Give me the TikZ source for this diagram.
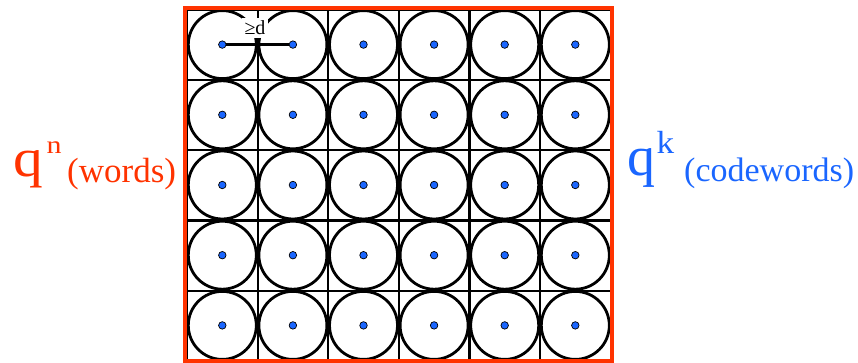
\documentclass[tikz,border=0pt]{standalone}
\usepackage{fontspec}
\setmainfont{Liberation Serif}
\usepackage{graphicx}
\usepackage{tikz}
\usetikzlibrary{positioning}
\definecolor{wordred}{HTML}{FF3300}
\definecolor{codeblue}{HTML}{1A66FF}
\tikzset{
  gridline/.style={line width=2.2pt,black},
  border/.style={draw=wordred,line width=4pt},
  ball/.style={circle,draw=black,fill=white,line width=2.8pt,
               minimum size=68pt,inner sep=0},
  centre/.style={circle,draw=black,fill=codeblue,line width=0.7pt,
                 minimum size=7.5pt,inner sep=0},
  spacelabel/.style={anchor=base west,inner sep=0},
}
\newcommand{\sizedtext}[3]{\scalebox{#2}[1]{\fontsize{#1}{#1}\selectfont #3}}

\begin{document}
\begin{tikzpicture}[x=1pt,y=-1pt]
  \useasboundingbox (0,0) rectangle (858,363);

  % grid of words
  \foreach \i in {0,...,6}
    \draw[gridline] ({187+70.6*\i},10) -- ({187+70.6*\i},361);
  \foreach \j in {0,...,5}
    \draw[gridline] (187,{10+70.2*\j}) -- (610.6,{10+70.2*\j});

  % codewords with their balls
  \foreach \i in {1,...,6}
    \foreach \j in {1,...,5}{
      \node[ball] (b\i\j) at ({187+70.6*\i-35.3},{9.5+70.2*\j-35.1}) {};
      \node[centre] (c\i\j) at (b\i\j) {};
    }

  % space of all words
  \draw[border] (184.5,8) rectangle (611.5,361);

  % minimum distance
  \draw[line width=3pt] (c11) -- (c21);
  \node[fill=white,inner sep=2.5pt,font=\fontsize{20}{20}\selectfont]
    (dist) at (255,28) {≥d};

  % labels
  \node[spacelabel,wordred] (qn) at (13,176.7) {\sizedtext{54}{1.1}{q}};
  \node[spacelabel,wordred] (qnexp) at (46.5,153.3) {\sizedtext{25}{1.2}{n}};
  \node[spacelabel,wordred] (words) at (67,183) {\sizedtext{35}{1}{(words)}};
  \node[spacelabel,codeblue] (qk) at (627,176) {\sizedtext{56}{1}{q}};
  \node[spacelabel,codeblue] (qkexp) at (656.5,153.3) {\sizedtext{32}{1.1}{k}};
  \node[spacelabel,codeblue] (codewords) at (684,182) {\sizedtext{34}{1}{(codewords)}};
\end{tikzpicture}
\end{document}
